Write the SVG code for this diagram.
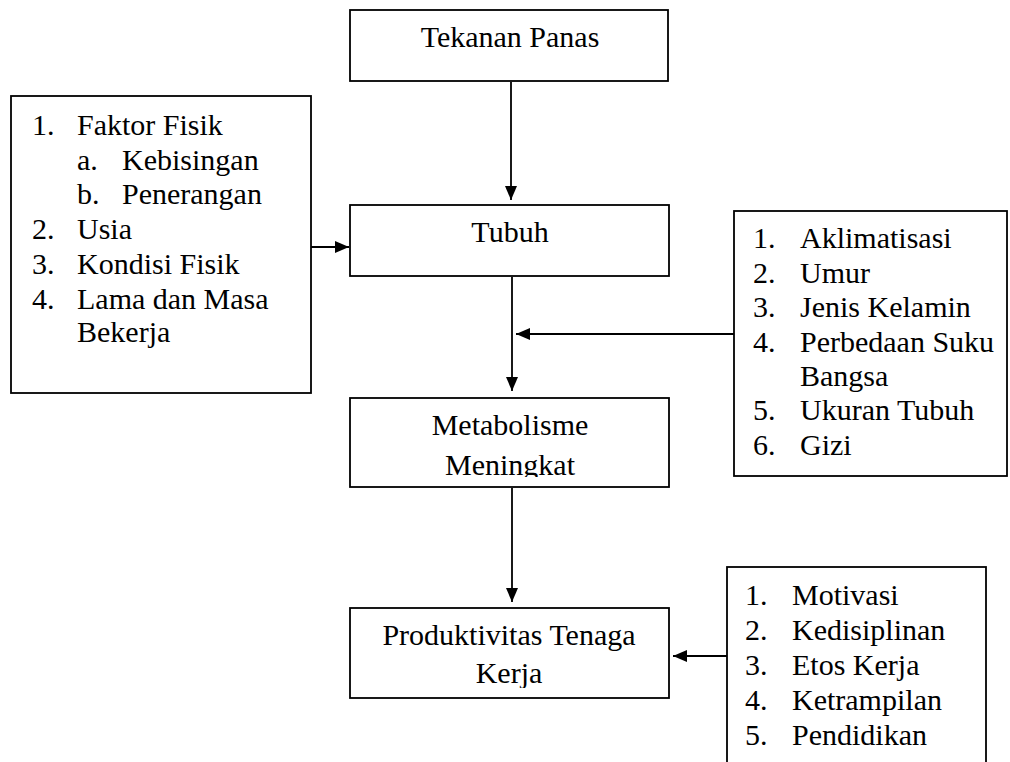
<svg xmlns="http://www.w3.org/2000/svg" width="1010" height="762" viewBox="0 0 1010 762">
<style>
.box{fill:#fff;stroke:#000;stroke-width:1.8}
.t{font-family:"Liberation Serif","Times New Roman",serif;font-size:30px;fill:#000}
.c{text-anchor:middle}
.ln{fill:none;stroke:#000;stroke-width:1.8}
</style>
<defs>
<marker id="ah" markerWidth="14" markerHeight="12" refX="14" refY="6" orient="auto" markerUnits="userSpaceOnUse">
<path d="M0,0 L14,6 L0,12 Z" fill="#000"/>
</marker>
<clipPath id="clipMeta"><rect x="350" y="398" width="320" height="79"/></clipPath>
<clipPath id="clipProd"><rect x="350" y="608" width="320" height="80"/></clipPath>
</defs>
<rect width="1010" height="762" fill="#fff"/>

<g id="tekanan-panas">
<rect class="box" x="350" y="10" width="318" height="71"/>
<text class="t c" x="510" y="47">Tekanan Panas</text>
</g>

<g id="faktor-kiri">
<rect class="box" x="11" y="96" width="300" height="297"/>
<text class="t" x="32" y="135">1.</text><text class="t" x="77" y="135">Faktor Fisik</text>
<text class="t" x="77" y="170">a.</text><text class="t" x="122" y="170">Kebisingan</text>
<text class="t" x="77" y="204">b.</text><text class="t" x="122" y="204">Penerangan</text>
<text class="t" x="32" y="239">2.</text><text class="t" x="77" y="239">Usia</text>
<text class="t" x="32" y="274">3.</text><text class="t" x="77" y="274">Kondisi Fisik</text>
<text class="t" x="32" y="309">4.</text><text class="t" x="77" y="309">Lama dan Masa</text>
<text class="t" x="77" y="342">Bekerja</text>
</g>

<g id="tubuh">
<rect class="box" x="350" y="205" width="319" height="71"/>
<text class="t c" x="510" y="242">Tubuh</text>
</g>

<g id="faktor-kanan">
<rect class="box" x="734" y="211" width="273" height="265"/>
<text class="t" x="753" y="248">1.</text><text class="t" x="800" y="248">Aklimatisasi</text>
<text class="t" x="753" y="283">2.</text><text class="t" x="800" y="283">Umur</text>
<text class="t" x="753" y="317">3.</text><text class="t" x="800" y="317">Jenis Kelamin</text>
<text class="t" x="753" y="352">4.</text><text class="t" x="800" y="352">Perbedaan Suku</text>
<text class="t" x="800" y="386">Bangsa</text>
<text class="t" x="753" y="420">5.</text><text class="t" x="800" y="420">Ukuran Tubuh</text>
<text class="t" x="753" y="455">6.</text><text class="t" x="800" y="455">Gizi</text>
</g>

<g id="metabolisme">
<rect class="box" x="350" y="398" width="319" height="89"/>
<g clip-path="url(#clipMeta)">
<text class="t c" x="510" y="435">Metabolisme</text>
<text class="t c" x="510" y="475">Meningkat</text>
</g>
</g>

<g id="produktivitas">
<rect class="box" x="350" y="608" width="319" height="90"/>
<g clip-path="url(#clipProd)">
<text class="t c" x="509" y="645">Produktivitas Tenaga</text>
<text class="t c" x="509" y="683">Kerja</text>
</g>
</g>

<g id="faktor-bawah">
<rect class="box" x="727" y="567" width="259" height="230"/>
<text class="t" x="745" y="605">1.</text><text class="t" x="792" y="605">Motivasi</text>
<text class="t" x="745" y="640">2.</text><text class="t" x="792" y="640">Kedisiplinan</text>
<text class="t" x="745" y="675">3.</text><text class="t" x="792" y="675">Etos Kerja</text>
<text class="t" x="745" y="710">4.</text><text class="t" x="792" y="710">Ketrampilan</text>
<text class="t" x="745" y="745">5.</text><text class="t" x="792" y="745">Pendidikan</text>
</g>

<g id="connectors">
<line class="ln" x1="511" y1="82" x2="511" y2="200" marker-end="url(#ah)"/>
<line class="ln" x1="311" y1="247" x2="349" y2="247" marker-end="url(#ah)"/>
<line class="ln" x1="512" y1="277" x2="512" y2="391" marker-end="url(#ah)"/>
<line class="ln" x1="734" y1="334" x2="516" y2="334" marker-end="url(#ah)"/>
<line class="ln" x1="512" y1="488" x2="512" y2="602" marker-end="url(#ah)"/>
<line class="ln" x1="727" y1="656" x2="673" y2="656" marker-end="url(#ah)"/>
</g>
</svg>
